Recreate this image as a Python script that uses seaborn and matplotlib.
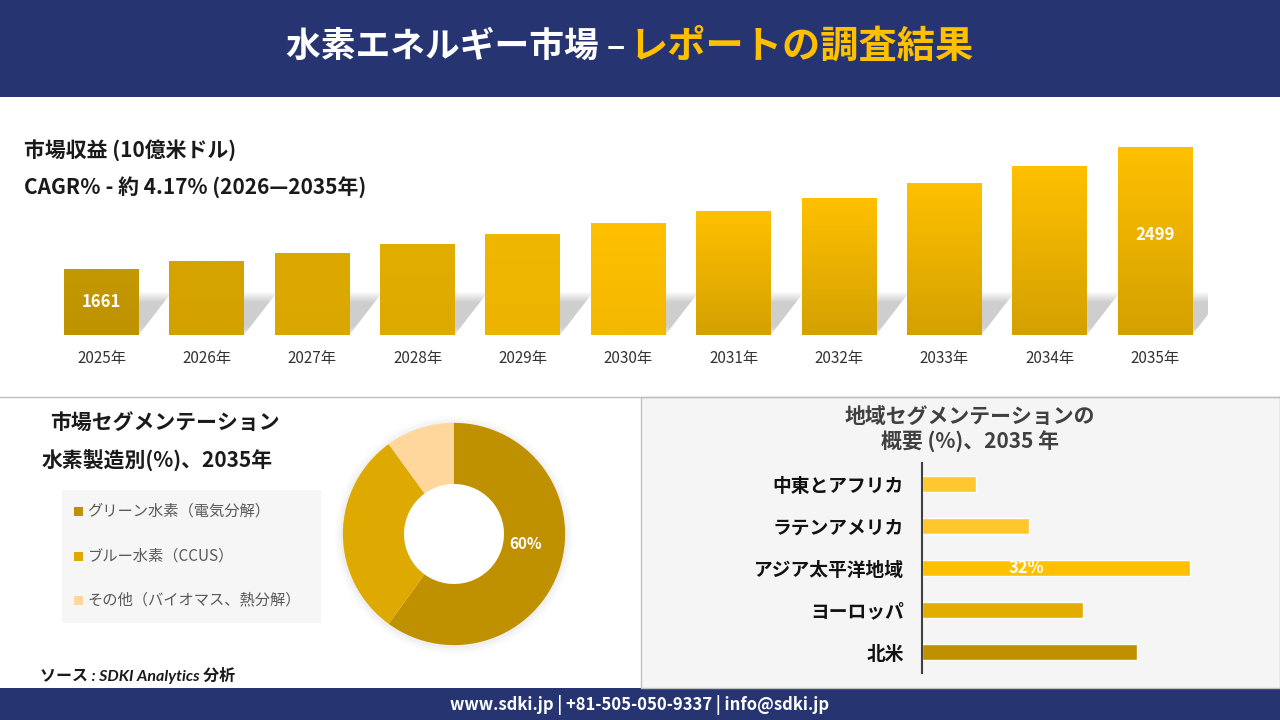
import numpy as np
import pandas as pd
import matplotlib
matplotlib.use("Agg")
import matplotlib.pyplot as plt
from matplotlib.patches import Rectangle, Polygon
from matplotlib.lines import Line2D
from matplotlib.colors import to_rgb
import seaborn as sns

# データ
years = ["2025年", "2026年", "2027年", "2028年", "2029年", "2030年",
         "2031年", "2032年", "2033年", "2034年", "2035年"]
revenue = [1661, 1716, 1771, 1833, 1901, 1977, 2059, 2149, 2252, 2369, 2499]
bar_top_colors = ["#C39800", "#D6A400", "#DDA900", "#E2AD00", "#F0B700", "#FFC000",
                  "#FFC000", "#FFC000", "#FFC000", "#FFC000", "#FFC000"]
bar_bottom_colors = ["#BF9300", "#D4A200", "#DAA700", "#DFAA00", "#ECB300", "#F4B800",
                     "#D4A100", "#D4A100", "#D4A100", "#D4A100", "#D4A100"]

segments = ["グリーン水素（電気分解）", "ブルー水素（CCUS）", "その他（バイオマス、熱分解）"]
segment_share = [60, 30, 10]
segment_colors = ["#BF9000", "#DEA900", "#FFD79C"]

regions = ["中東とアフリカ", "ラテンアメリカ", "アジア太平洋地域", "ヨーロッパ", "北米"]
region_share = [6.4, 12.8, 32, 19.2, 25.6]
region_colors = ["#FFC82E", "#FFC72C", "#FFC000", "#E2AC00", "#BF9000"]

NAVY = "#263571"
GOLD = "#FFC000"
W, H = 1280, 720

sns.set_theme(style="white")
plt.rcParams["font.family"] = ["Noto Sans CJK JP", "DejaVu Sans"]


def px_box(x0, y0, x1, y1):
    # ピクセル座標 -> figure 座標
    return [x0 / W, 1 - y1 / H, (x1 - x0) / W, (y1 - y0) / H]


def fx(x):
    return x / W


def fy(y):
    return 1 - y / H


fig = plt.figure(figsize=(W / 100, H / 100), dpi=100)
fig.patch.set_facecolor("white")

# 背景パーツ
fig.add_artist(Rectangle((0, fy(97)), 1, 97 / H, transform=fig.transFigure,
                         facecolor=NAVY, edgecolor="none", zorder=-2))
fig.add_artist(Rectangle((0, 0), 1, 32 / H, transform=fig.transFigure,
                         facecolor=NAVY, edgecolor="none", zorder=-2))
fig.add_artist(Rectangle((fx(641), fy(688)), (W - 641) / W, (688 - 397) / H,
                         transform=fig.transFigure, facecolor="#F5F5F5",
                         edgecolor="#C0C0C0", linewidth=1, zorder=-2))
fig.add_artist(Line2D([0, 1], [fy(397), fy(397)], transform=fig.transFigure,
                      color="#BFBFBF", linewidth=1, zorder=-1))
fig.add_artist(Rectangle((fx(62), fy(623)), (321 - 62) / W, (623 - 490) / H,
                         transform=fig.transFigure, facecolor="#F6F6F6",
                         edgecolor="none", zorder=-1))

# タイトル
fig.text(fx(626), fy(46), "水素エネルギー市場 –", color="white", fontsize=25,
         fontweight="bold", ha="right", va="center")
fig.text(fx(630), fy(46), "レポートの調査結果", color=GOLD, fontsize=27.5,
         fontweight="bold", ha="left", va="center")

# 市場収益
fig.text(fx(24), fy(150), "市場収益 (10億米ドル)", fontsize=15, fontweight="bold",
         color="#1A1A1A", va="center")
fig.text(fx(24), fy(188), "CAGR％ - 約 4.17% (2026—2035年)", fontsize=15,
         fontweight="bold", color="#1A1A1A", va="center")

ax_rev = fig.add_axes(px_box(48.8, 120, 1207.7, 334.7))
df_rev = pd.DataFrame({"year": years, "revenue": revenue})
sns.barplot(data=df_rev, x="year", y="revenue", hue="year", palette=bar_bottom_colors,
            width=0.71, saturation=1, legend=False, ax=ax_rev)
y_floor, y_top = 1209.7, 2684.5
x_lim = (-0.5, len(years) - 0.5)

# 影 (ぼかし風)
dx = 34 * (x_lim[1] - x_lim[0]) / (1207.7 - 48.8)
dh = 44 * (y_top - y_floor) / (334.7 - 120)
v = np.linspace(0, 1, 64)
shade = np.zeros((64, 1, 4))
shade[..., :3] = 0.55
shade[:, 0, 3] = 0.42 * np.clip((1 - v) / 0.25, 0, 1) * np.clip(v / 0.3 + 0.4, 0, 1)
bars = list(ax_rev.patches)
for bar in bars:
    x0 = bar.get_x()
    x1 = x0 + bar.get_width()
    poly = Polygon([(x0, y_floor), (x1, y_floor), (x1 + dx, y_floor + dh),
                    (x0 + dx, y_floor + dh)], closed=True, facecolor="none",
                   edgecolor="none")
    ax_rev.add_patch(poly)
    im = ax_rev.imshow(shade, extent=[x0, x1 + dx, y_floor, y_floor + dh],
                       origin="lower", aspect="auto", zorder=1, interpolation="bilinear")
    im.set_clip_path(poly)

# グラデーション
t = np.linspace(0, 1, 64)[:, None]
for bar, c_top, c_bot in zip(bars, bar_top_colors, bar_bottom_colors):
    x0 = bar.get_x()
    w = bar.get_width()
    rgb = (1 - t) * np.array(to_rgb(c_bot)) + t * np.array(to_rgb(c_top))
    ax_rev.imshow(rgb[:, None, :], extent=[x0, x0 + w, y_floor, bar.get_height()],
                  origin="lower", aspect="auto", zorder=3, interpolation="bilinear")

for i in (0, len(revenue) - 1):
    ax_rev.text(i, (y_floor + revenue[i]) / 2 + (40 if i else 0), str(revenue[i]),
                color="white", fontsize=12, fontweight="bold", ha="center",
                va="center", zorder=5)

ax_rev.set_xlim(*x_lim)
ax_rev.set_ylim(y_floor, y_top)
ax_rev.set_facecolor("none")
ax_rev.set_xlabel("")
ax_rev.set_ylabel("")
ax_rev.set_yticks([])
ax_rev.tick_params(axis="x", length=0, pad=11, labelsize=11, labelcolor="#333333")
sns.despine(ax=ax_rev, left=True, bottom=True)

# 水素製造別
fig.text(fx(165), fy(422), "市場セグメンテーション", fontsize=15, fontweight="bold",
         color="#1A1A1A", ha="center", va="center")
fig.text(fx(42), fy(461), "水素製造別(%)、2035年", fontsize=15, fontweight="bold",
         color="#1A1A1A", ha="left", va="center")
for name, col, yy in zip(segments, segment_colors, [511, 556, 600]):
    fig.add_artist(Rectangle((fx(74), fy(yy + 4.5)), 9 / W, 9 / H,
                             transform=fig.transFigure, facecolor=col, edgecolor="none"))
    fig.text(fx(87), fy(yy), name, fontsize=11, color="#595959", va="center")

ax_pie = fig.add_axes(px_box(334, 414, 574, 654))
for r, a in [(1.07, 0.03), (1.045, 0.05), (1.02, 0.07)]:
    ax_pie.add_patch(plt.Circle((0, -0.01), r, color="#999999", alpha=a, zorder=0,
                                linewidth=0))
ax_pie.add_patch(plt.Circle((0, 0), 0.46, color="white", zorder=0.5, linewidth=0))
wedges, _, autotexts = ax_pie.pie(
    segment_share, colors=segment_colors, startangle=90, counterclock=False,
    wedgeprops=dict(width=0.55, edgecolor="none"),
    autopct=lambda p: f"{p:.0f}%" if p > 50 else "", pctdistance=0.7,
    textprops=dict(color="white", fontsize=11, fontweight="bold"))
for w_ in wedges:
    w_.set_zorder(1)
px_, py_ = autotexts[0].get_position()
autotexts[0].set_position((px_ - 0.02, py_ + 0.13))
autotexts[0].set_zorder(2)
ax_pie.set_xlim(-1.08, 1.08)
ax_pie.set_ylim(-1.08, 1.08)
ax_pie.set_aspect("equal")
ax_pie.axis("off")

fig.text(fx(40), fy(676), "ソース : SDKI Analytics 分析", fontsize=11.5, style="italic",
         fontweight="bold", color="#1A1A1A", va="center",
         family=["Lato", "Noto Sans CJK JP"])

# 地域別
fig.text(fx(970), fy(416), "地域セグメンテーションの", fontsize=15, fontweight="bold",
         color="#404040", ha="center", va="center")
fig.text(fx(970), fy(442), "概要 (%)、2035 年", fontsize=15, fontweight="bold",
         color="#404040", ha="center", va="center")

ax_reg = fig.add_axes(px_box(922, 463, 1250, 673))
sns.barplot(x=region_share, y=regions, hue=regions, palette=region_colors, width=0.4,
            orient="h", saturation=1, legend=False, ax=ax_reg)
ax_reg.set_xlim(0, (1250 - 922) / 8.38)
ax_reg.set_facecolor("none")
ax_reg.set_xticks([])
ax_reg.tick_params(axis="y", length=0, pad=13, labelsize=13.5, labelcolor="#111111")
for lab in ax_reg.get_yticklabels():
    lab.set_fontweight("bold")
for s in ["top", "right", "bottom"]:
    ax_reg.spines[s].set_visible(False)
ax_reg.spines["left"].set_color("#404040")
ax_reg.spines["left"].set_linewidth(1.5)
ax_reg.text(region_share[2] * 0.39, 2, f"{region_share[2]:.0f}%", color="white",
            fontsize=12, fontweight="bold", ha="center", va="center")

# フッター
fig.text(0.5, fy(705), "www.sdki.jp | +81-505-050-9337 | info@sdki.jp", color="white",
         fontsize=12, fontweight="bold", ha="center", va="center")

fig.savefig("out.png", dpi=100)
